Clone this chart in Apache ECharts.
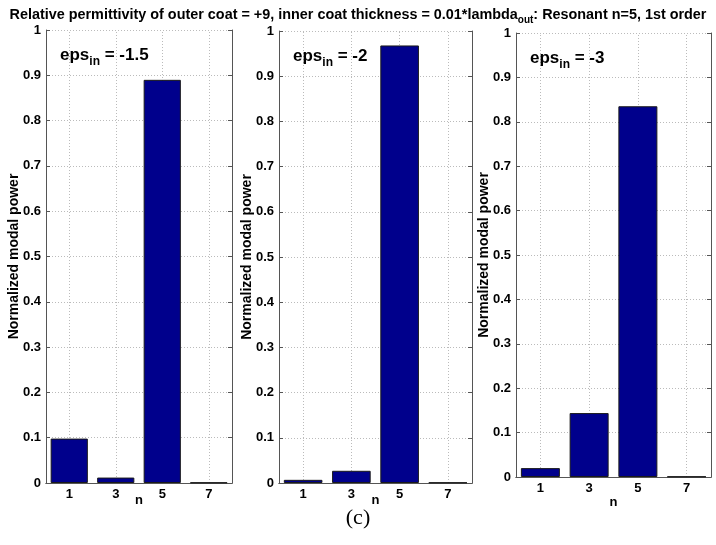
<!DOCTYPE html>
<html>
<head>
<meta charset="utf-8">
<script src="https://cdn.jsdelivr.net/npm/echarts@6/dist/echarts.min.js"></script>
<style>
html, body { margin: 0; padding: 0; background: #fff; }
#chart { width: 716px; height: 545px; }
</style>
</head>
<body>
<div id="chart"></div>
<script>
// modal orders on the x axis
var nLabels = ['1', '3', '5', '7'];
// inner coat permittivity of each panel
var epsLabels = ['-1.5', '-2', '-3'];
// normalized modal power
var powerEps15 = [0.098, 0.012, 0.890, 0.001];
var powerEps2 = [0.007, 0.027, 0.968, 0.001];
var powerEps3 = [0.020, 0.144, 0.835, 0.001];

var seriesData = [powerEps15, powerEps2, powerEps3];
var grids = [
	{ left: 46, top: 30, width: 186, height: 453, nameGap: 11 },
	{ left: 279, top: 31, width: 193, height: 452, nameGap: 11 },
	{ left: 516, top: 33, width: 195, height: 444, nameGap: 19 }
];
var font = 'Liberation Sans, Arial, sans-serif';
var boxColor = '#555';
var gridLine = { show: true, lineStyle: { color: '#bbb', type: [1, 2], width: 1 } };

var xAxes = [], yAxes = [], series = [], titles = [];

titles.push({
	text: 'Relative permittivity of outer coat = +9, inner coat thickness = 0.01*lambda{s|out}: Resonant n=5, 1st order',
	left: 'center',
	top: 0,
	textStyle: {
		fontFamily: font, fontWeight: 'bold', fontSize: 14.4, color: '#000',
		rich: { s: { fontFamily: font, fontWeight: 'bold', fontSize: 10, padding: [10, 0, 0, 0] } }
	}
});

for (var i = 0; i < 3; i++) {
	var g = grids[i];
	// bottom axis with labels
	xAxes.push({
		type: 'category', gridIndex: i, data: nLabels, position: 'bottom',
		name: 'n', nameLocation: 'middle', nameGap: g.nameGap, nameMoveOverlap: false,
		nameTextStyle: { fontFamily: font, fontWeight: 'bold', fontSize: 13, color: '#000' },
		axisLine: { lineStyle: { color: boxColor } },
		axisTick: { inside: true, alignWithLabel: true, length: 4, lineStyle: { color: boxColor } },
		axisLabel: { fontFamily: font, fontWeight: 'bold', fontSize: 13, color: '#000', margin: 5 },
		splitLine: { show: false }
	});
	// top axis only for the box ticks
	xAxes.push({
		type: 'category', gridIndex: i, data: nLabels, position: 'top',
		axisLine: { lineStyle: { color: boxColor } },
		axisTick: { inside: true, alignWithLabel: true, length: 4, lineStyle: { color: boxColor } },
		axisLabel: { show: false },
		splitLine: { show: false }
	});
	yAxes.push({
		type: 'value', gridIndex: i, min: 0, max: 1, interval: 0.1, position: 'left',
		name: 'Normalized modal power', nameLocation: 'middle', nameGap: 25, nameRotate: 90,
		nameMoveOverlap: false,
		nameTextStyle: { fontFamily: font, fontWeight: 'bold', fontSize: 14, color: '#000' },
		axisLine: { show: true, lineStyle: { color: boxColor } },
		axisTick: { show: true, inside: true, length: 4, lineStyle: { color: boxColor } },
		axisLabel: { fontFamily: font, fontWeight: 'bold', fontSize: 13, color: '#000', margin: 5 },
		splitLine: gridLine
	});
	yAxes.push({
		type: 'value', gridIndex: i, min: 0, max: 1, interval: 0.1, position: 'right',
		axisLine: { show: true, lineStyle: { color: boxColor } },
		axisTick: { show: true, inside: true, length: 4, lineStyle: { color: boxColor } },
		axisLabel: { show: false },
		splitLine: { show: false }
	});
	series.push({
		type: 'bar',
		xAxisIndex: i * 2,
		yAxisIndex: i * 2,
		data: seriesData[i],
		barCategoryGap: '20%',
		itemStyle: { color: '#00008c', borderColor: '#1a1a1a', borderWidth: 1 },
		z: 3,
		markLine: {
			silent: true, symbol: 'none', z: 1,
			label: { show: false },
			lineStyle: gridLine.lineStyle,
			data: nLabels.map(function (v) { return { xAxis: v }; })
		}
	});
	titles.push({
		text: '{a|eps}{b|in}{a| = ' + epsLabels[i] + '}',
		left: g.left + 9,
		top: g.top + 8,
		textStyle: {
			rich: {
				a: { fontFamily: font, fontWeight: 'bold', fontSize: 17, color: '#000' },
				b: { fontFamily: font, fontWeight: 'bold', fontSize: 12, color: '#000', padding: [13, 0, 0, 0] }
			}
		}
	});
}

titles.push({
	text: '(c)',
	left: 'center',
	top: 502,
	textStyle: { fontFamily: 'Liberation Serif, Times New Roman, serif', fontWeight: 'normal', fontSize: 22, color: '#000' }
});

var myChart = echarts.init(document.getElementById('chart'), null, { renderer: 'canvas' });
var option = {
	animation: false,
	backgroundColor: '#fff',
	title: titles,
	grid: grids.map(function (g) {
		return { left: g.left, top: g.top, width: g.width, height: g.height, containLabel: false };
	}),
	xAxis: xAxes,
	yAxis: yAxes,
	series: series
};
myChart.setOption(option);
</script>
</body>
</html>
